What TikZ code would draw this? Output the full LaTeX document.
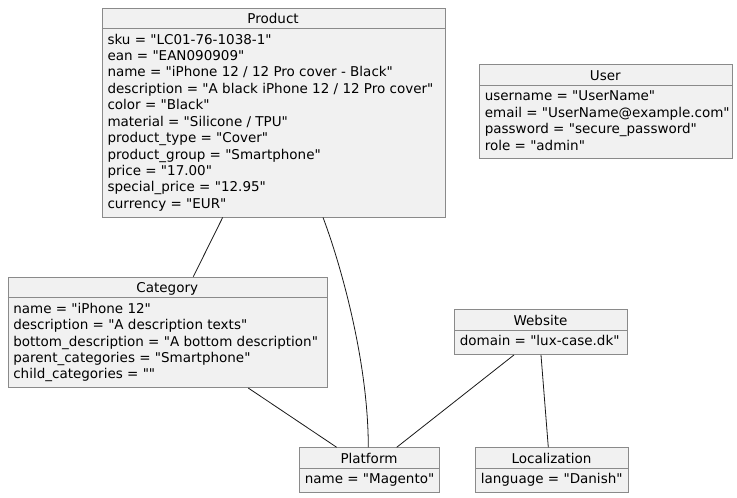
\documentclass[tikz,border=0pt]{standalone}
\usepackage{fontspec}
\setmainfont{DejaVu Sans}[Ligatures=TeXOff]
\definecolor{boxfill}{HTML}{F1F1F1}
\definecolor{boxedge}{HTML}{8A8A8A}
\definecolor{linkcol}{HTML}{181818}
\tikzset{
  umlframe/.style={draw=boxedge, fill=boxfill, line width=0.9pt, inner sep=0, rectangle},
  umlsep/.style={draw=boxedge, line width=0.9pt},
  umltxt/.style={font=\fontsize{13.5pt}{16.43pt}\selectfont, inner sep=0, text=black},
  link/.style={draw=linkcol, line width=0.8pt}
}
% name, L, T, R, n, title, lines
\newcommand\umlbox[7]{%
  \pgfmathsetmacro\umlB{#3+28.3+#5*16.43}%
  \pgfmathsetmacro\umlW{#4-#2}%
  \pgfmathsetmacro\umlH{\umlB-#3}%
  \node[umlframe, anchor=north west, minimum width=\umlW pt, minimum height=\umlH pt] (#1) at (#2,#3) {};
  \draw[umlsep] (#2,#3+20.8) -- (#4,#3+20.8);
  \node[umltxt, anchor=base] (#1-t) at ({(#2+#4)/2},#3+16) {#6};
  \foreach \s [count=\k] in {#7} {
    \node[umltxt, anchor=base west] (#1-\k) at (#2+5.6,{#3+36.5+(\k-1)*16.43}) {\s};
  }
}
\begin{document}
\begin{tikzpicture}[x=1pt,y=-1pt]
\useasboundingbox (0,0) rectangle (737,498);
\umlbox{product}{101.7}{7.5}{444.5}{11}{Product}{%
sku = "LC01-76-1038-1",
ean = "EAN090909",
name = "iPhone 12 / 12 Pro cover - Black",
description = "A black iPhone 12 / 12 Pro cover",
color = "Black",
material = "Silicone / TPU",
product\_type = "Cover",
product\_group = "Smartphone",
price = "17.00",
special\_price = "12.95",
currency = "EUR"}
\umlbox{user}{479}{64.3}{731.5}{4}{User}{%
username = "UserName",
email = "UserName@example.com",
password = "secure\_password",
role = "admin"}
\umlbox{category}{7.5}{276.7}{327}{5}{Category}{%
name = "iPhone 12",
description = "A description texts",
bottom\_description = "A bottom description",
parent\_categories = "Smartphone",
child\_categories = ""}
\umlbox{website}{454}{309.3}{627}{1}{Website}{domain = "lux-case.dk"}
\umlbox{platform}{299}{447.3}{439}{1}{Platform}{name = "Magento"}
\umlbox{localization}{475}{447.3}{628}{1}{Localization}{language = "Danish"}
% connectors
\draw[link] ([xshift=121pt]product.south west) -- ([xshift=185.8pt]category.north west);
\draw[link] ([xshift=221.3pt]product.south west) .. controls +(17,45) and +(0,-87) .. ([xshift=69.3pt]platform.north west);
\draw[link] ([xshift=240.8pt]category.south west) -- ([xshift=37.7pt]platform.north west);
\draw[link] ([xshift=60pt]website.south west) -- ([xshift=97.7pt]platform.north west);
\draw[link] ([xshift=87pt]website.south west) -- ([xshift=73.3pt]localization.north west);
\end{tikzpicture}
\end{document}
